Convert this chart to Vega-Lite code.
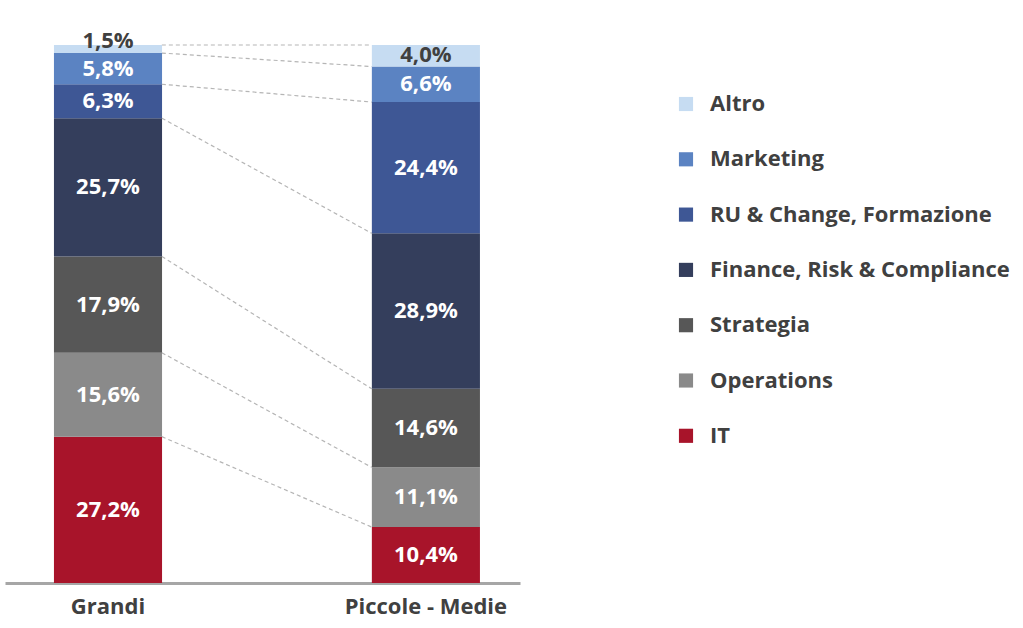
{
  "$schema": "https://vega.github.io/schema/vega-lite/v6.json",
  "width": 515,
  "height": 538,
  "autosize": {"type": "none"},
  "padding": {"left": 5, "top": 45, "right": 503, "bottom": 45},
  "background": "white",
  "config": {"view": {"stroke": null}, "font": "Open Sans"},
  "data": {"values": [
    {"g": "Grandi", "cat": "IT", "v": 27.2, "k": 1},
    {"g": "Grandi", "cat": "Operations", "v": 15.6, "k": 2},
    {"g": "Grandi", "cat": "Strategia", "v": 17.9, "k": 3},
    {"g": "Grandi", "cat": "Finance, Risk & Compliance", "v": 25.7, "k": 4},
    {"g": "Grandi", "cat": "RU & Change, Formazione", "v": 6.3, "k": 5},
    {"g": "Grandi", "cat": "Marketing", "v": 5.8, "k": 6},
    {"g": "Grandi", "cat": "Altro", "v": 1.5, "k": 7},
    {"g": "Piccole - Medie", "cat": "IT", "v": 10.4, "k": 1},
    {"g": "Piccole - Medie", "cat": "Operations", "v": 11.1, "k": 2},
    {"g": "Piccole - Medie", "cat": "Strategia", "v": 14.6, "k": 3},
    {"g": "Piccole - Medie", "cat": "Finance, Risk & Compliance", "v": 28.9, "k": 4},
    {"g": "Piccole - Medie", "cat": "RU & Change, Formazione", "v": 24.4, "k": 5},
    {"g": "Piccole - Medie", "cat": "Marketing", "v": 6.6, "k": 6},
    {"g": "Piccole - Medie", "cat": "Altro", "v": 4.0, "k": 7}
  ]},
  "transform": [
    {"stack": "v", "groupby": ["g"], "sort": [{"field": "k", "order": "ascending"}], "as": ["y0", "y1"]},
    {"calculate": "(datum.y0 + datum.y1) / 2", "as": "mid"},
    {"calculate": "replace(format(datum.v, '.1f'), '.', ',') + '%'", "as": "lbl"}
  ],
  "resolve": {"scale": {"x": "independent"}},
  "layer": [
    {
      "transform": [
        {"pivot": "g", "value": "y1", "groupby": ["cat"]}
      ],
      "mark": {"type": "rule", "strokeDash": [4, 3], "color": "#b5b5b5", "strokeWidth": 1.2},
      "encoding": {
        "x": {"datum": "Grandi", "type": "nominal", "scale": {"type": "point", "domain": ["Grandi", "Piccole - Medie"], "padding": 0.727, "align": 0.514}, "axis": null},
        "x2": {"datum": "Piccole - Medie"},
        "y": {"field": "Grandi", "type": "quantitative", "scale": {"domain": [0, 100], "nice": false}, "axis": null},
        "y2": {"field": "Piccole - Medie"}
      }
    },
    {
      "layer": [
        {
          "mark": {"type": "bar"},
          "encoding": {
            "x": {
              "field": "g", "type": "nominal", "title": null,
              "scale": {"domain": ["Grandi", "Piccole - Medie"], "paddingInner": 0.66, "paddingOuter": 0.14, "align": 0.55},
              "axis": {"labelAngle": 0, "labelFontSize": 22, "labelFontWeight": "bold", "labelColor": "#404040", "ticks": false, "labelPadding": 13, "domainColor": "#a6a6a6", "domainWidth": 3}
            },
            "y": {"field": "y0", "type": "quantitative", "scale": {"domain": [0, 100], "nice": false}, "axis": null},
            "y2": {"field": "y1"},
            "color": {
              "field": "cat", "type": "nominal", "title": null,
              "scale": {
                "domain": ["Altro", "Marketing", "RU & Change, Formazione", "Finance, Risk & Compliance", "Strategia", "Operations", "IT"],
                "range": ["#c6dcf2", "#5b83c2", "#3e5795", "#343e5c", "#575757", "#8a8a8a", "#a8142a"]
              },
              "legend": {
                "orient": "none", "legendX": 670, "legendY": 48,
                "symbolType": "square", "symbolSize": 200, "symbolStrokeWidth": 0,
                "labelFontSize": 22, "labelFontWeight": "bold", "labelColor": "#404040",
                "labelOffset": 13, "rowPadding": 33.3, "labelLimit": 400
              }
            }
          }
        },
        {
          "transform": [{"filter": "datum.cat !== 'Altro'"}],
          "mark": {"type": "text", "fontSize": 22, "fontWeight": "bold", "baseline": "middle", "color": "white"},
          "encoding": {
            "x": {"field": "g", "type": "nominal"},
            "y": {"field": "mid", "type": "quantitative"},
            "text": {"field": "lbl"}
          }
        },
        {
          "transform": [{"filter": "datum.cat === 'Altro'"}],
          "mark": {"type": "text", "fontSize": 22, "fontWeight": "bold", "baseline": "alphabetic", "dy": -5, "color": "#404040"},
          "encoding": {
            "x": {"field": "g", "type": "nominal"},
            "y": {"field": "y0", "type": "quantitative"},
            "text": {"field": "lbl"}
          }
        }
      ]
    }
  ]
}
